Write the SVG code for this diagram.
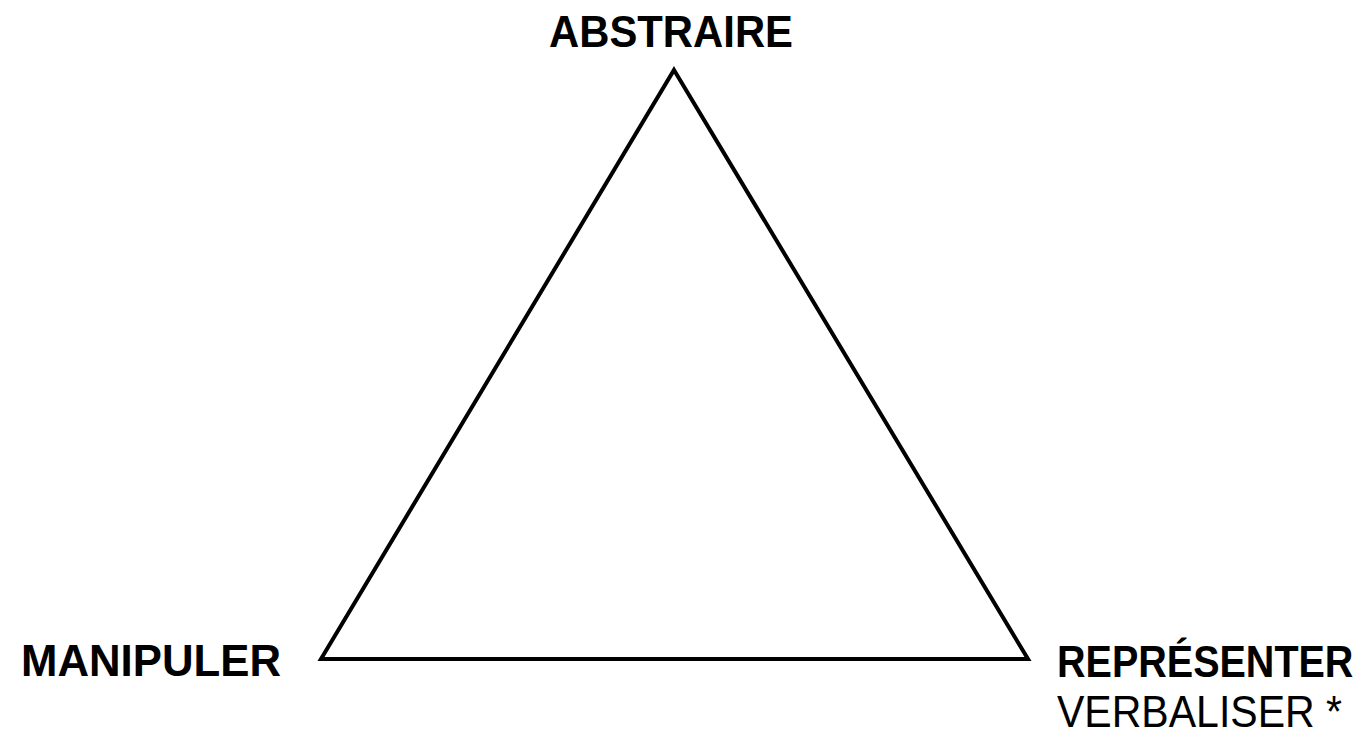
<svg xmlns="http://www.w3.org/2000/svg" width="1364" height="744" viewBox="0 0 1364 744">
<style>
.t{font-family:"Liberation Sans",Arial,sans-serif;font-size:44.5px;fill:#000}
.b{font-weight:bold}
.edge{fill:none;stroke:#000;stroke-width:4;stroke-linejoin:miter}
</style>
<rect width="1364" height="744" fill="#fff"/>
<g id="connectors">
<polygon class="edge" points="674,70 1028,659 321,659"/>
</g>
<g id="abstraire"><text class="t b" x="549" y="47" textLength="244" lengthAdjust="spacingAndGlyphs">ABSTRAIRE</text></g>
<g id="manipuler"><text class="t b" x="21" y="676" textLength="260" lengthAdjust="spacingAndGlyphs">MANIPULER</text></g>
<g id="representer">
<text class="t b" transform="translate(1057,677) scale(0.888,1)" x="0" y="0">REPRÉSENTER</text>
<text class="t" x="1057" y="727" textLength="285" lengthAdjust="spacingAndGlyphs">VERBALISER *</text>
</g>
</svg>
